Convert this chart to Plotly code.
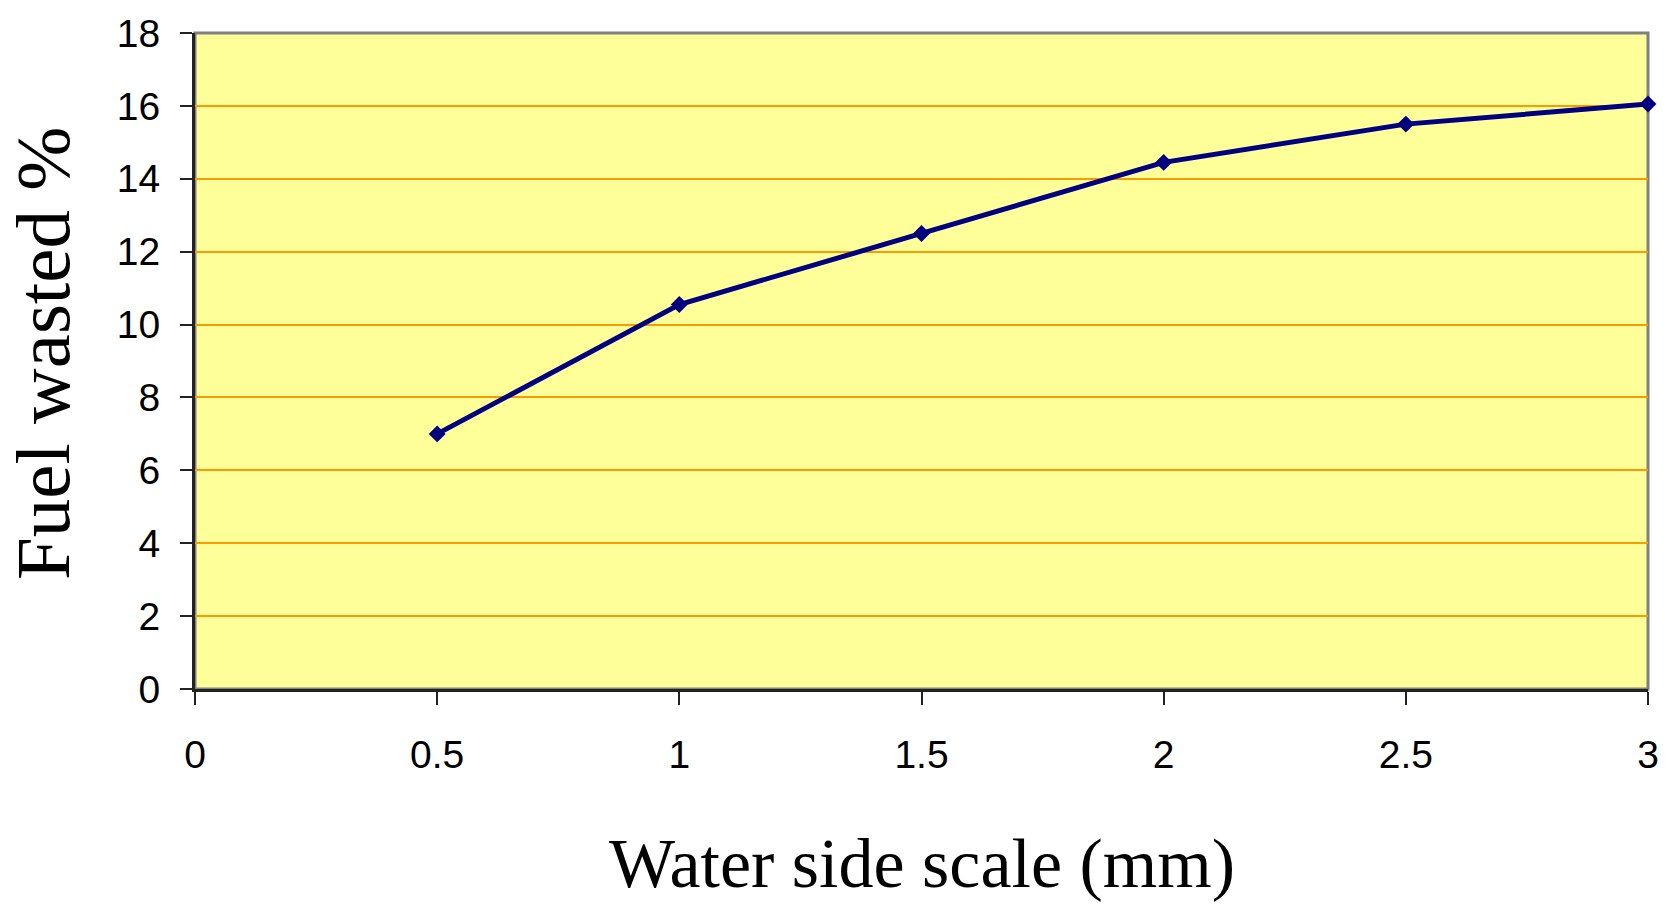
import plotly.graph_objects as go

scale_mm = [0.5, 1.0, 1.5, 2.0, 2.5, 3.0]
fuel_wasted = [7.0, 10.55, 12.5, 14.45, 15.5, 16.05]
x_ticks = [0, 0.5, 1, 1.5, 2, 2.5, 3]
x_tick_labels = ["0", "0.5", "1", "1.5", "2", "2.5", "3"]
y_ticks = [0, 2, 4, 6, 8, 10, 12, 14, 16, 18]

W, H = 1675, 906
L, R, T, B = 195, 27, 31, 217

fig = go.Figure()
fig.add_trace(go.Scatter(
    x=scale_mm, y=fuel_wasted, mode="lines+markers",
    line=dict(color="#000080", width=5),
    marker=dict(symbol="diamond", size=13, color="#000080"),
    cliponaxis=False, showlegend=False,
))

fig.update_layout(
    width=W, height=H,
    margin=dict(l=L, r=R, t=T, b=B),
    paper_bgcolor="white", plot_bgcolor="#FFFF99",
    font=dict(family="Liberation Sans, Arial", color="black"),
    shapes=[dict(type="rect", xref="paper", yref="paper", x0=0, x1=1, y0=0, y1=1,
                 line=dict(color="#808080", width=3), layer="below")],
    annotations=[
        dict(text="Water side scale (mm)", xref="paper", yref="paper",
             x=0.5, y=(689 - 864) / (H - T - B),
             xanchor="center", yanchor="middle", showarrow=False,
             font=dict(family="Liberation Serif, Times New Roman", size=70, color="black")),
        dict(text="Fuel wasted %", xref="paper", yref="paper",
             x=(43 - L) / (W - L - R), y=(689 - 353) / (H - T - B),
             xanchor="center", yanchor="middle", showarrow=False, textangle=-90,
             font=dict(family="Liberation Serif, Times New Roman", size=77, color="black")),
    ],
)

fig.update_xaxes(
    range=[0, 3], tickvals=x_ticks, ticktext=x_tick_labels,
    showgrid=False, zeroline=False,
    showline=True, linecolor="#222222", linewidth=3,
    ticks="outside", ticklen=13, tickwidth=2, tickcolor="#222222",
    tickfont=dict(size=39, family="Liberation Sans, Arial"),
    ticklabelstandoff=16,
)
fig.update_yaxes(
    range=[0, 18], tickvals=y_ticks,
    showgrid=True, gridcolor="#FF9900", gridwidth=2, zeroline=False,
    showline=True, linecolor="#222222", linewidth=3,
    ticks="outside", ticklen=12, tickwidth=2, tickcolor="#222222",
    tickfont=dict(size=39, family="Liberation Sans, Arial"),
    ticklabelstandoff=12,
)

fig.write_html("out.html")
